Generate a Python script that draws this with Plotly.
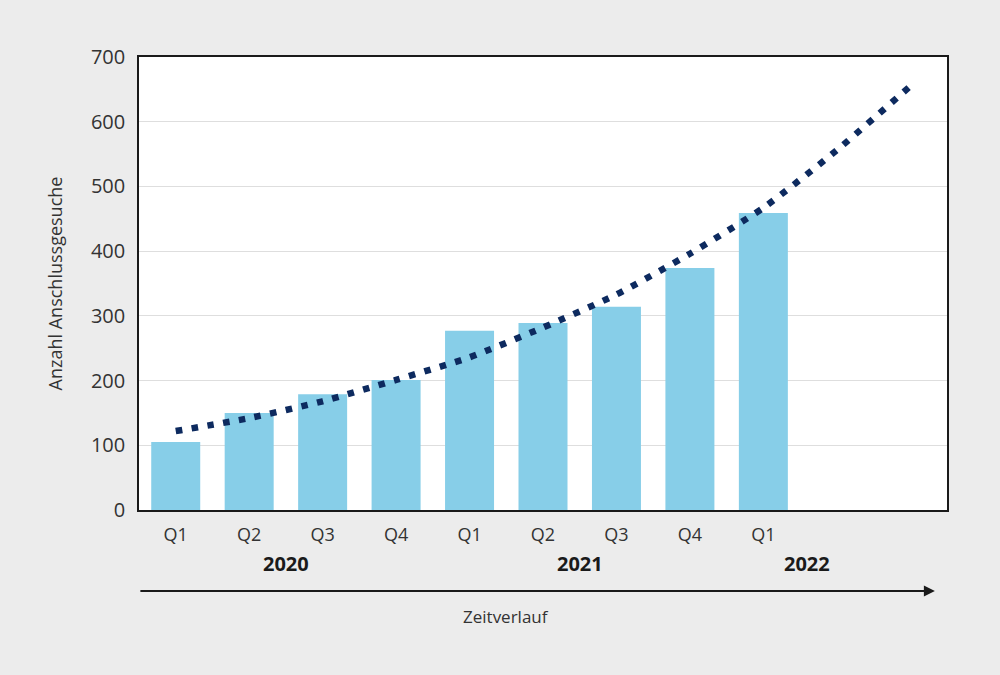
import plotly.graph_objects as go

quarters = ["Q1", "Q2", "Q3", "Q4", "Q1", "Q2", "Q3", "Q4", "Q1"]
requests = [105, 150, 179, 201, 277, 289, 314, 374, 459]
trend = [122, 142, 168, 201, 236, 282, 333, 396, 467, 556, 655]
years = ["2020", "2021", "2022"]
year_pos = [1.5, 5.5, 8.6]

bar_x = list(range(len(requests)))
trend_x = list(range(len(trend)))

FONT = "Open Sans"

fig = go.Figure()
fig.add_trace(go.Bar(x=bar_x, y=requests, marker=dict(color="#87CEE8", line=dict(width=0)),
                     width=0.667, hoverinfo="y"))
fig.add_trace(go.Scatter(x=trend_x, y=trend, mode="lines",
                         line=dict(color="#0d2a5f", width=6.5, dash="6.5px,9.5px", shape="spline", smoothing=0.6),
                         hoverinfo="skip"))

annotations = []
for yr, xp in zip(years, year_pos):
    annotations.append(dict(x=xp, y=-0.117, xref="x", yref="paper", text=yr, showarrow=False,
                            yanchor="middle", xanchor="center",
                            font=dict(family=FONT, size=20, color="#1a1a1a", weight="bold")))
annotations.append(dict(x=0.4545, y=-0.234, xref="paper", yref="paper", text="Zeitverlauf",
                        showarrow=False, yanchor="middle", xanchor="center",
                        font=dict(family=FONT, size=17, color="#333333")))
annotations.append(dict(x=0.985, y=-0.179, xref="paper", yref="paper", ax=-796, ay=0,
                        axref="pixel", ayref="pixel", text="", showarrow=True,
                        arrowhead=2, arrowsize=1.1, arrowwidth=2, arrowcolor="#1a1a1a"))

fig.update_layout(
    width=1000, height=675,
    margin=dict(l=138.5, r=53, t=57, b=165),
    paper_bgcolor="#ececec", plot_bgcolor="#ffffff",
    showlegend=False, bargap=0.333,
    annotations=annotations,
    font=dict(family=FONT, color="#333333"),
)
fig.update_xaxes(range=[-0.5, 10.5], tickmode="array", tickvals=bar_x, ticktext=quarters,
                 tickfont=dict(family=FONT, size=18, color="#333333"), ticks="",
                 ticklabelstandoff=8,
                 showline=True, linecolor="#1a1a1a", linewidth=1.5, mirror=True,
                 showgrid=False, zeroline=False, fixedrange=True)
fig.update_yaxes(range=[0, 700], tickmode="array", tickvals=[0, 100, 200, 300, 400, 500, 600, 700],
                 tickfont=dict(family=FONT, size=20, color="#333333"), ticks="",
                 ticklabelstandoff=8,
                 title=dict(text="Anzahl Anschlussgesuche", font=dict(family=FONT, size=18, color="#333333"),
                            standoff=24),
                 showline=True, linecolor="#1a1a1a", linewidth=1.5, mirror=True,
                 showgrid=True, gridcolor="#dedede", gridwidth=1.2, zeroline=False, fixedrange=True)

fig.write_html("out.html")
